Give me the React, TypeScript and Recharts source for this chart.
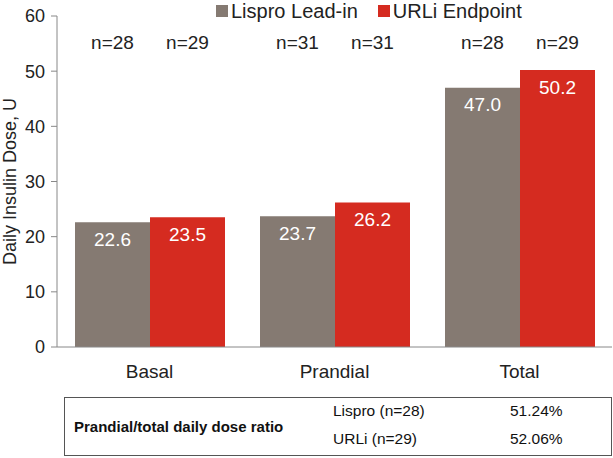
import React from "react"
import { BarChart, Bar, XAxis, YAxis, Legend, LabelList } from "recharts"

const categories = ["Basal", "Prandial", "Total"]
const lisproDose = [22.6, 23.7, 47.0]
const urliDose = [23.5, 26.2, 50.2]
const lisproN = [28, 31, 28]
const urliN = [29, 31, 29]
const yTicks = [0, 10, 20, 30, 40, 50, 60]

const ratioRows = [
  { label: "Lispro (n=28)", value: "51.24%" },
  { label: "URLi (n=29)", value: "52.06%" },
]

const GRAY = "#857a72"
const RED = "#d52b20"
const FONT = "'Liberation Sans', Arial, sans-serif"

const data = categories.map((c, i) => ({
  name: c,
  lispro: lisproDose[i],
  urli: urliDose[i],
  nLispro: `n=${lisproN[i]}`,
  nUrli: `n=${urliN[i]}`,
}))

function NLabel(props: any) {
  const { x, width, value } = props
  return (
    <text x={x + width / 2} y={49} textAnchor="middle" fontSize={19} fill="#222" fontFamily={FONT}>
      {value}
    </text>
  )
}

function LegendContent() {
  const items = [
    { name: "Lispro Lead-in", color: GRAY },
    { name: "URLi Endpoint", color: RED },
  ]
  return (
    <div style={{ display: "flex", gap: 20, fontFamily: FONT, fontSize: 20, lineHeight: "22px", color: "#222" }}>
      {items.map((it) => (
        <div key={it.name} style={{ display: "flex", alignItems: "center", gap: 3 }}>
          <span style={{ width: 12, height: 12, background: it.color, display: "inline-block" }} />
          <span>{it.name}</span>
        </div>
      ))}
    </div>
  )
}

function YLabel(props: any) {
  const vb = props.viewBox
  const cy = vb.y + vb.height / 2
  return (
    <text transform={`translate(16,${cy}) rotate(-90)`} textAnchor="middle" fontSize={18} fill="#222" fontFamily={FONT}>
      Daily Insulin Dose, U
    </text>
  )
}

export default function App() {
  return (
    <div style={{ position: "absolute", left: 0, top: 0, width: 613, height: 458, background: "#fff", fontFamily: FONT }}>
      <BarChart
        width={613}
        height={390}
        data={data}
        margin={{ top: 16, right: 1, left: 0, bottom: 13 }}
        barCategoryGap={18}
        barGap={0}
      >
        <XAxis
          dataKey="name"
          tick={{ fontSize: 19, fill: "#222", fontFamily: FONT, dy: 10 }}
          tickLine={false}
          axisLine={{ stroke: "#888" }}
          height={30}
        />
        <YAxis
          domain={[0, 60]}
          ticks={yTicks}
          width={57}
          tick={{ fontSize: 18, fill: "#222", fontFamily: FONT, dx: -4 }}
          tickLine={{ stroke: "#888" }}
          tickSize={6}
          axisLine={{ stroke: "#888" }}
          label={{ content: <YLabel /> }}
        />
        <Legend
          verticalAlign="middle"
          align="center"
          layout="horizontal"
          content={<LegendContent />}
          wrapperStyle={{ top: 0, left: 216, width: "auto" }}
        />
        <Bar dataKey="lispro" name="Lispro Lead-in" fill={GRAY} isAnimationActive={false}>
          <LabelList dataKey="lispro" position="insideTop" offset={10} fill="#fff" fontSize={19} fontFamily={FONT} formatter={(v: any) => Number(v).toFixed(1)} />
          <LabelList dataKey="nLispro" content={<NLabel />} />
        </Bar>
        <Bar dataKey="urli" name="URLi Endpoint" fill={RED} isAnimationActive={false}>
          <LabelList dataKey="urli" position="insideTop" offset={10} fill="#fff" fontSize={19} fontFamily={FONT} formatter={(v: any) => Number(v).toFixed(1)} />
          <LabelList dataKey="nUrli" content={<NLabel />} />
        </Bar>
      </BarChart>
      <div
        style={{
          position: "absolute",
          left: 64,
          top: 397,
          width: 546,
          height: 57,
          border: "1.5px solid #555",
          color: "#111",
        }}
      >
        <div style={{ position: "absolute", left: 9, top: 20, fontSize: 15, fontWeight: "bold" }}>
          Prandial/total daily dose ratio
        </div>
        {ratioRows.map((r, i) => (
          <React.Fragment key={r.label}>
            <div style={{ position: "absolute", left: 268, top: 4 + i * 28, fontSize: 15.5 }}>{r.label}</div>
            <div style={{ position: "absolute", left: 445, top: 4 + i * 28, fontSize: 15.5 }}>{r.value}</div>
          </React.Fragment>
        ))}
      </div>
    </div>
  )
}
